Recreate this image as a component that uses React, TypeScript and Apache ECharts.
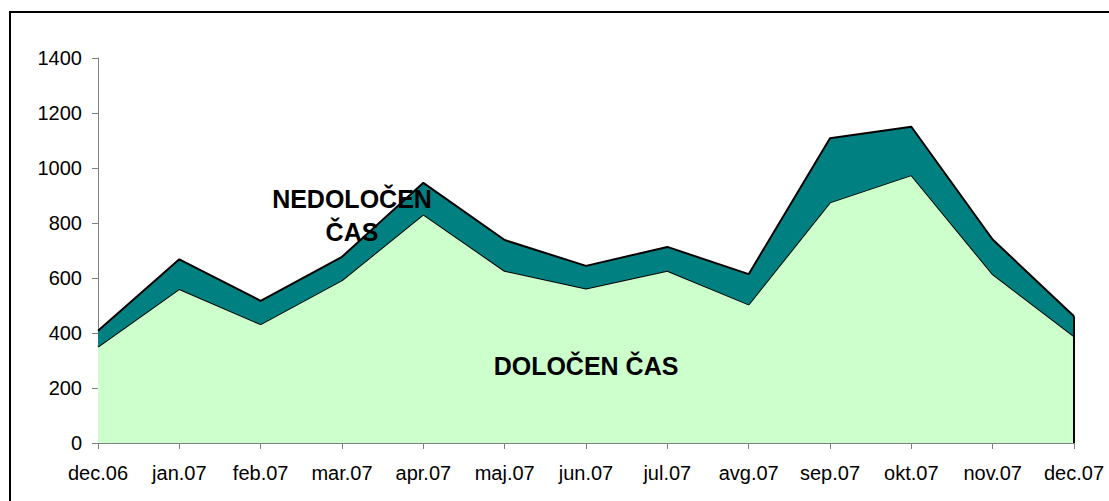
import React, { useEffect, useRef } from "react";
import * as echarts from "echarts";

const categories = ["dec.06", "jan.07", "feb.07", "mar.07", "apr.07", "maj.07", "jun.07", "jul.07", "avg.07", "sep.07", "okt.07", "nov.07", "dec.07"];
const dolocen = [350, 560, 432, 592, 831, 626, 562, 626, 504, 875, 974, 614, 388];
const nedolocen = [58, 108, 85, 85, 115, 112, 82, 87, 110, 233, 176, 126, 73];
const yTicks = { min: 0, max: 1400, interval: 200 };

export default function App() {
  const ref = useRef<HTMLDivElement>(null);
  useEffect(() => {
    if (!ref.current) return;
    const chart = echarts.init(ref.current, undefined, { renderer: "svg" });
    const last = categories.length - 1;
    const font = "Arial, 'Liberation Sans', sans-serif";
    chart.setOption({
      animation: false,
      backgroundColor: "#ffffff",
      grid: { left: 98, right: 35, top: 58, bottom: 58 },
      xAxis: {
        type: "category",
        data: categories,
        boundaryGap: false,
        axisLine: { lineStyle: { color: "#808080", width: 1 } },
        axisTick: { show: true, alignWithLabel: true, length: 6, lineStyle: { color: "#808080" } },
        axisLabel: { color: "#000", fontSize: 20, fontFamily: font, margin: 20, interval: 0 },
        splitLine: { show: false },
      },
      yAxis: {
        type: "value",
        min: yTicks.min,
        max: yTicks.max,
        interval: yTicks.interval,
        axisLine: { show: true, lineStyle: { color: "#808080", width: 1 } },
        axisTick: { show: true, length: 6, lineStyle: { color: "#808080" } },
        axisLabel: { color: "#000", fontSize: 20, fontFamily: font, margin: 16, formatter: (v: number) => String(v) },
        splitLine: { show: false },
      },
      series: [
        {
          name: "DOLOČEN ČAS",
          type: "line",
          stack: "total",
          data: dolocen,
          symbol: "none",
          lineStyle: { color: "#000", width: 2 },
          areaStyle: { color: "#CCFFCC", opacity: 1 },
          z: 2,
        },
        {
          name: "NEDOLOČEN ČAS",
          type: "line",
          stack: "total",
          data: nedolocen,
          symbol: "none",
          lineStyle: { color: "#000", width: 2 },
          areaStyle: { color: "#008080", opacity: 1 },
          z: 3,
          markLine: {
            silent: true,
            symbol: "none",
            label: { show: false },
            lineStyle: { color: "#000", width: 2, type: "solid" },
            data: [
              [
                { coord: [categories[last], 0] },
                { coord: [categories[last], dolocen[last] + nedolocen[last]] },
              ],
            ],
          },
        },
      ],
      graphic: [
        {
          type: "rect",
          shape: { x: 10, y: 12, width: 1200, height: 600 },
          style: { fill: "none", stroke: "#000", lineWidth: 2 },
          silent: true,
          z: 100,
        },
        {
          type: "text",
          x: 352,
          y: 215,
          style: {
            text: "NEDOLOČEN\nČAS",
            fill: "#000",
            font: `bold 25px ${font}`,
            align: "center",
            verticalAlign: "middle",
            lineHeight: 33,
          },
          z: 100,
        },
        {
          type: "text",
          x: 586,
          y: 366,
          style: {
            text: "DOLOČEN ČAS",
            fill: "#000",
            font: `bold 25px ${font}`,
            align: "center",
            verticalAlign: "middle",
          },
          z: 100,
        },
      ],
    });
    return () => chart.dispose();
  }, []);
  return <div ref={ref} style={{ width: 1109, height: 501, position: "absolute", left: 0, top: 0 }} />;
}
